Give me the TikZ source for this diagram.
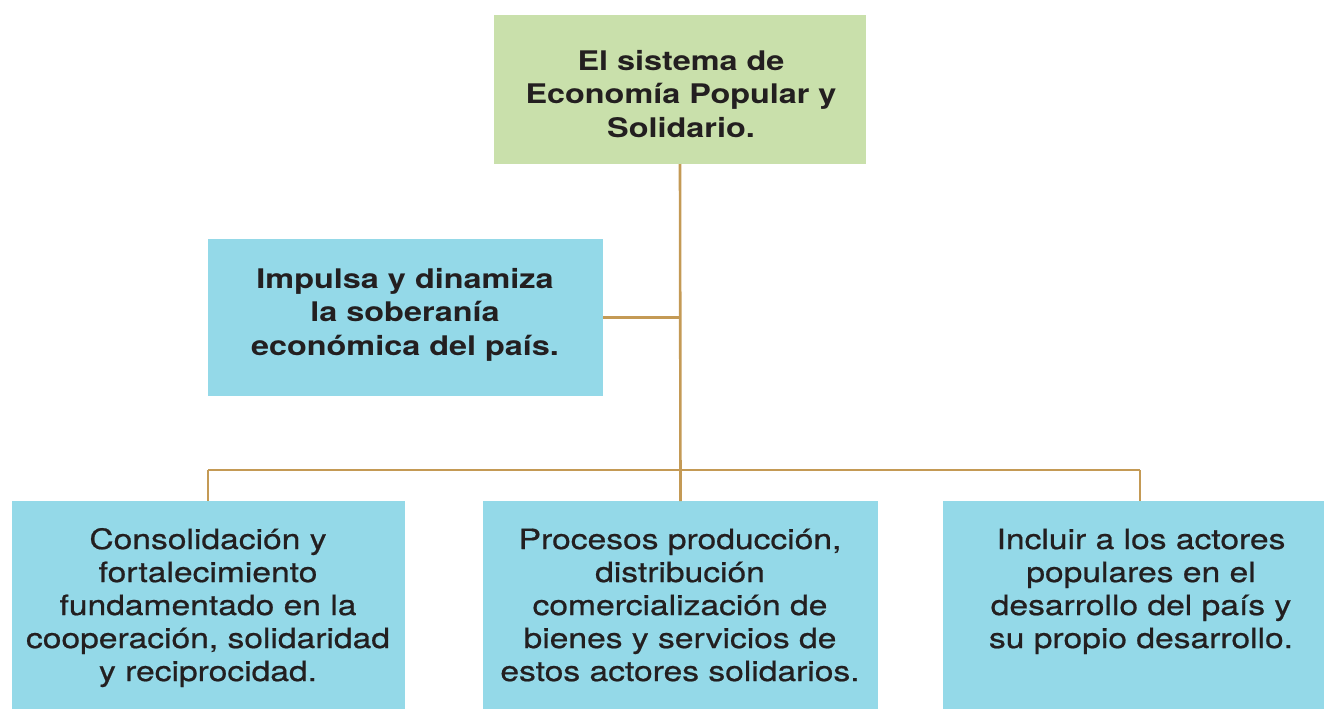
\documentclass[tikz,border=0pt]{standalone}
\usepackage{fontspec}
\setmainfont{TeX Gyre Heros}[FakeStretch=1.2]
\definecolor{boxgreen}{HTML}{C9E0AB}
\definecolor{boxblue}{HTML}{94D9E8}
\definecolor{linetan}{HTML}{C49A55}
\definecolor{txt}{HTML}{231F20}
\begin{document}
\begin{tikzpicture}[x=1pt,y=-1pt,
  box/.style={inner sep=0pt, outer sep=0pt, anchor=north west},
  label/.style={inner sep=0pt, anchor=base, align=center, text=txt, font=\fontsize{28}{33}\selectfont\addfontfeature{FakeBold=0.7}},
  boldlabel/.style={label, font=\fontsize{27}{33.5}\selectfont\bfseries},
  conn/.style={draw=linetan, line width=2.6pt}]
\useasboundingbox (0,0) rectangle (1324,709);
% boxes
\node[box, fill=boxgreen, minimum width=372pt, minimum height=149pt] (top) at (494,15) {};
\node[box, fill=boxblue, minimum width=395pt, minimum height=157pt] (mid) at (208,239) {};
\node[box, fill=boxblue, minimum width=393pt, minimum height=208pt] (b1) at (12,501) {};
\node[box, fill=boxblue, minimum width=395pt, minimum height=208pt] (b2) at (483,501) {};
\node[box, fill=boxblue, minimum width=381pt, minimum height=208pt] (b3) at (943,501) {};
% texts (anchor base = baseline of last line)
\node[boldlabel] (ttop) at (681,137) {El sistema de\\Economía Popular y\\Solidario.};
\node[boldlabel] (tmid) at (405,355) {Impulsa y dinamiza\\la soberanía\\económica del país.};
\node[label] (tb1) at (208,681) {Consolidación y\\fortalecimiento\\fundamentado en la\\cooperación, solidaridad\\y reciprocidad.};
\node[label] (tb2) at (680,681) {Procesos producción,\\distribución\\comercialización de\\bienes y servicios de\\estos actores solidarios.};
\node[label] (tb3) at (1141,648) {Incluir a los actores\\populares en el\\desarrollo del país y\\su propio desarrollo.};
% connectors
\coordinate (bl) at (208,470);
\coordinate (br) at (1140,470);
\draw[conn] (top.south) -- (b2.north);
\draw[conn] (mid.east) -- (mid.east -| top.south);
\draw[conn] (bl) -- (br);
\draw[conn] (bl) -- (bl |- b1.north);
\draw[conn] (br) -- (br |- b3.north);
\end{tikzpicture}
\end{document}
